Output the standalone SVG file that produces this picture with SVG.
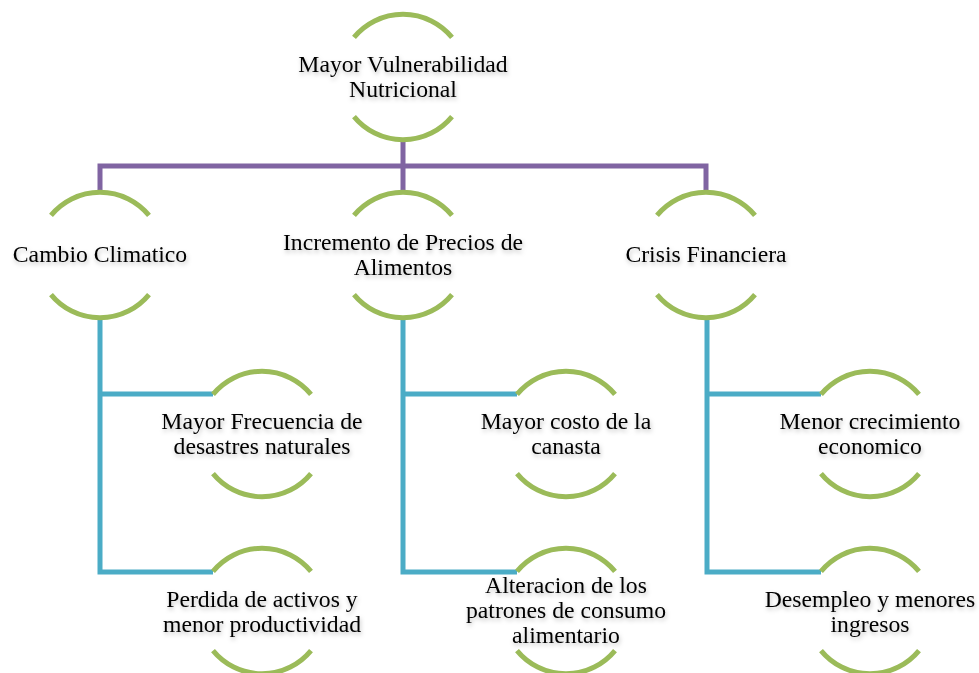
<svg xmlns="http://www.w3.org/2000/svg" width="979" height="673" viewBox="0 0 979 673">
<defs>
<filter id="sh" x="-10%" y="-30%" width="120%" height="160%">
<feDropShadow dx="1" dy="2.5" stdDeviation="2" flood-color="#000" flood-opacity="0.25"/>
</filter>
</defs>
<style>
.arc{fill:none;stroke:#9BBB59;stroke-width:5}
.p{fill:none;stroke:#8064A2;stroke-width:5}
.b{fill:none;stroke:#4BACC6;stroke-width:5}
text{font-family:"Liberation Serif","Times New Roman",serif;font-size:23.7px;fill:#000;text-anchor:middle;filter:url(#sh)}
</style>
<rect width="979" height="673" fill="#fff"/>
<g id="connectors">
<path class="p" d="M403 140 V166 M100 192 V166 H706 V192 M403 166 V192"/>
<path class="b" d="M100 318 V572 H213 M100 394 H213"/>
<path class="b" d="M403 318 V572 H517 M403 394 H517"/>
<path class="b" d="M707 318 V572 H821 M707 394 H821"/>
</g>
<g id="n0">
<path class="arc" d="M354 37.4 A63.5 63.5 0 0 1 452 37.4 M354 116.6 A63.5 63.5 0 0 0 452 116.6"/>
<text x="403" y="72">Mayor Vulnerabilidad</text>
<text x="403" y="97">Nutricional</text>
</g>
<g id="n1">
<path class="arc" d="M51 215.4 A63.5 63.5 0 0 1 149 215.4 M51 294.6 A63.5 63.5 0 0 0 149 294.6"/>
<text x="100" y="262">Cambio Climatico</text>
</g>
<g id="n2">
<path class="arc" d="M354 215.4 A63.5 63.5 0 0 1 452 215.4 M354 294.6 A63.5 63.5 0 0 0 452 294.6"/>
<text x="403" y="250">Incremento de Precios de</text>
<text x="403" y="275">Alimentos</text>
</g>
<g id="n3">
<path class="arc" d="M657 215.4 A63.5 63.5 0 0 1 755 215.4 M657 294.6 A63.5 63.5 0 0 0 755 294.6"/>
<text x="706" y="262">Crisis Financiera</text>
</g>
<g id="n4">
<path class="arc" d="M213 394.4 A63.5 63.5 0 0 1 311 394.4 M213 473.6 A63.5 63.5 0 0 0 311 473.6"/>
<text x="262" y="429">Mayor Frecuencia de</text>
<text x="262" y="454">desastres naturales</text>
</g>
<g id="n5">
<path class="arc" d="M213 571.4 A63.5 63.5 0 0 1 311 571.4 M213 650.6 A63.5 63.5 0 0 0 311 650.6"/>
<text x="262" y="607">Perdida de activos y</text>
<text x="262" y="632">menor productividad</text>
</g>
<g id="n6">
<path class="arc" d="M517 394.4 A63.5 63.5 0 0 1 615 394.4 M517 473.6 A63.5 63.5 0 0 0 615 473.6"/>
<text x="566" y="429">Mayor costo de la</text>
<text x="566" y="454">canasta</text>
</g>
<g id="n7">
<path class="arc" d="M517 571.4 A63.5 63.5 0 0 1 615 571.4 M517 650.6 A63.5 63.5 0 0 0 615 650.6"/>
<text x="566" y="593">Alteracion de los</text>
<text x="566" y="618">patrones de consumo</text>
<text x="566" y="643">alimentario</text>
</g>
<g id="n8">
<path class="arc" d="M821 394.4 A63.5 63.5 0 0 1 919 394.4 M821 473.6 A63.5 63.5 0 0 0 919 473.6"/>
<text x="870" y="429">Menor crecimiento</text>
<text x="870" y="454">economico</text>
</g>
<g id="n9">
<path class="arc" d="M821 571.4 A63.5 63.5 0 0 1 919 571.4 M821 650.6 A63.5 63.5 0 0 0 919 650.6"/>
<text x="870" y="607">Desempleo y menores</text>
<text x="870" y="632">ingresos</text>
</g>
</svg>
